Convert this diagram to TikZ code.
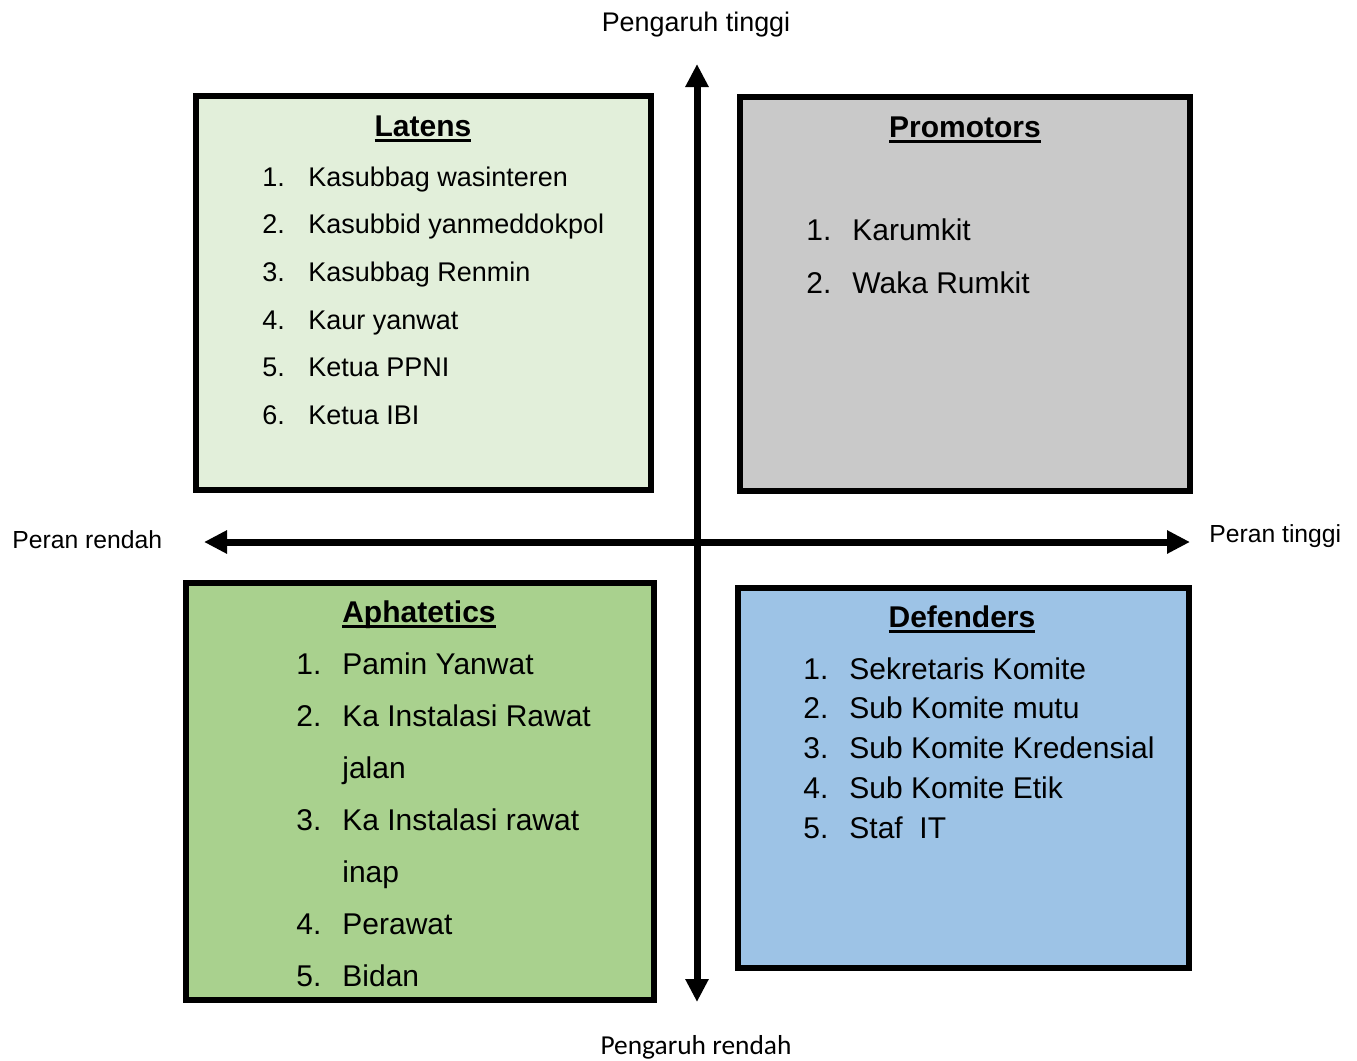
\documentclass[tikz,border=0pt]{standalone}
\usepackage{fontspec}
\setmainfont{Liberation Sans}
\newfontfamily\calibrifont{Carlito}
\usetikzlibrary{arrows.meta}
% bold heading with a heavy underline
\newcommand\headul[1]{\setbox0\hbox{\bfseries #1}\rlap{\rule[-3pt]{\wd0}{1.4pt}}\box0}
\definecolor{latfill}{HTML}{E2EFDA}
\definecolor{profill}{HTML}{C9C9C9}
\definecolor{aphfill}{HTML}{A9D18E}
\definecolor{deffill}{HTML}{9DC3E6}
\begin{document}
\begin{tikzpicture}[x=0.5pt,y=-0.5pt,
  quad/.style={draw=black,line width=3pt},
  head/.style={anchor=base,inner sep=0pt,font=\fontsize{15}{18}\selectfont},
  item/.style={anchor=base west,inner sep=0pt,font=\fontsize{15}{18}\selectfont},
  itemsm/.style={item,font=\fontsize{13.5}{16}\selectfont},
  axlabel/.style={inner sep=0pt,font=\fontsize{12.35}{15}\selectfont},
  biax/.style={line width=3.5pt,
    {Triangle[length=11.5pt,width=11pt]}-{Triangle[length=11.5pt,width=11pt]}}]
\useasboundingbox (0,0) rectangle (1357,1061);

% quadrant panels
\draw[quad,fill=latfill] (196,96) rectangle (651,490);
\draw[quad,fill=profill] (740,97) rectangle (1190,491);
\draw[quad,fill=aphfill] (186,583) rectangle (654,1000);
\draw[quad,fill=deffill] (738,588) rectangle (1189,968);

% axes
\coordinate (vtop) at (697,64);
\coordinate (vbot) at (697,1002);
\coordinate (hleft) at (204,542);
\coordinate (hright) at (1190,542);
\draw[biax] (vbot) -- (vtop);
\draw[biax] (hleft) -- (hright);

% axis labels
\node[axlabel,anchor=base,font=\fontsize{13.45}{16}\selectfont] (ytop) at (696,31) {Pengaruh tinggi};
\node[axlabel,anchor=base,font=\fontsize{13.7}{16}\selectfont\calibrifont] (ybot) at (696,1054) {Pengaruh rendah};
\node[axlabel,anchor=base west] (xleft) at (12,548) {Peran rendah};
\node[axlabel,anchor=base west] (xright) at (1209,542) {Peran tinggi};

% Latens
\node[head] (lat-h) at (423,136) {\headul{Latens}};
\foreach \t [count=\i] in {Kasubbag wasinteren,Kasubbid yanmeddokpol,Kasubbag Renmin,Kaur yanwat,Ketua PPNI,Ketua IBI}{
  \node[itemsm] (lat-n\i) at (262,{186+47.7*(\i-1)}) {\i.};
  \node[itemsm] (lat-t\i) at (308,{186+47.7*(\i-1)}) {\t};
}

% Promotors
\node[head] (pro-h) at (965,137) {\headul{Promotors}};
\node[item] (pro-n1) at (806,240) {1.};
\node[item] (pro-t1) at (852,240) {Karumkit};
\node[item] (pro-n2) at (806,293) {2.};
\node[item] (pro-t2) at (852,293) {Waka Rumkit};

% Aphatetics
\node[head] (aph-h) at (419,622) {\headul{Aphatetics}};
\node[item] (aph-n1) at (296,674) {1.};
\node[item] (aph-t1) at (342,674) {Pamin Yanwat};
\node[item] (aph-n2) at (296,726) {2.};
\node[item] (aph-t2) at (342,726) {Ka Instalasi Rawat};
\node[item] (aph-t2b) at (342,778) {jalan};
\node[item] (aph-n3) at (296,830) {3.};
\node[item] (aph-t3) at (342,830) {Ka Instalasi rawat};
\node[item] (aph-t3b) at (342,882) {inap};
\node[item] (aph-n4) at (296,934) {4.};
\node[item] (aph-t4) at (342,934) {Perawat};
\node[item] (aph-n5) at (296,986) {5.};
\node[item] (aph-t5) at (342,986) {Bidan};

% Defenders
\node[head] (def-h) at (962,627) {\headul{Defenders}};
\foreach \t [count=\i] in {Sekretaris Komite,Sub Komite mutu,Sub Komite Kredensial,Sub Komite Etik,Staf\ \ IT}{
  \node[item] (def-n\i) at (803,{679+39.8*(\i-1)}) {\i.};
  \node[item] (def-t\i) at (849,{679+39.8*(\i-1)}) {\t};
}
\end{tikzpicture}
\end{document}
